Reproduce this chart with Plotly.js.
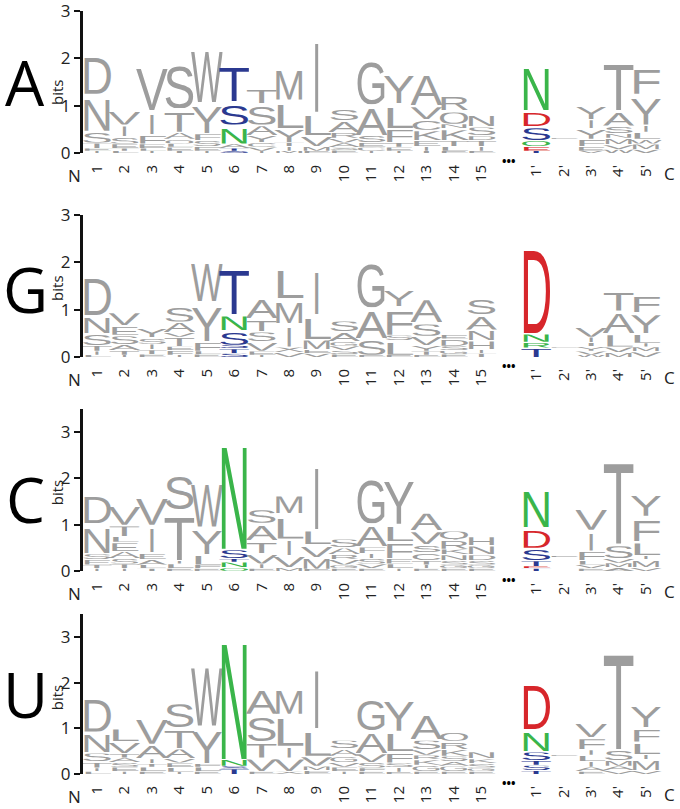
<!DOCTYPE html>
<html>
<head>
<meta charset="utf-8">
<script src="https://cdn.plot.ly/plotly-3.0.1.min.js"></script>
<style>html,body{margin:0;padding:0;background:#fff}#chart{width:680px;height:809px}</style>
</head>
<body>
<div id="chart"></div>
<script>
// ---------------- DATA ----------------
const positions = [1,2,3,4,5,6,7,8,9,10,11,12,13,14,15,16,17,18,19,20,21];
const tickLabels = ["1","2","3","4","5","6","7","8","9","10","11","12","13","14","15","","1'","2'","3'","4'","5'"];
const panelNames = ["A","G","C","U"];
// letters of each stack, bottom to top ("-" = empty slot); heights in bits
const lettersA = ["IETSND","LTESIV","ILEFIV","TELQATS","IESFYW","STANST","IVCYAST","MITYLM","EMVLI","ESAVRAS","ICESAG","IETFLY","TIEKCVA","ELTKNQR","EITDSN","","TEQSDN","-E","VEFYIY","WVMNSAT","VMWLIYF"];
const heightsA = [[.05,.05,.12,.25,.78,.92],[.05,.05,.10,.15,.25,.33],[.05,.05,.10,.20,.50,1.05],[.05,.08,.07,.10,.15,.50,1.05],[.05,.10,.12,.15,.65,1.30],[.05,.05,.10,.40,.50,.85],[.05,.08,.10,.15,.22,.45,.33],[.05,.10,.08,.30,.60,.75],[.05,.10,.22,.50,1.75],[.06,.06,.10,.10,.12,.25,.27],[.05,.08,.10,.15,.65,1.07],[.05,.08,.10,.30,.52,.70],[.05,.10,.12,.22,.22,.30,.75],[.05,.10,.12,.25,.10,.28,.33],[.05,.10,.12,.10,.20,.25],[],[.05,.10,.12,.30,.33,1.05],[.30,.04],[.05,.10,.15,.22,.20,.30],[.08,.10,.14,.10,.16,.32,1.15],[.08,.12,.10,.15,.15,.65,.62]];
const lettersG = ["LITSND","ITASEV","ETISY","IFETVAS","ELFYW","STSSNT","IEVSTA","VXIML","VEMLI","ESVGAS","ESAG","ELSFY","ETYVSA","EGSDE","TIHNAS","","TRND","-E","WVYTIV","MVLAT","VMILYF"];
const heightsG = [[.05,.08,.12,.25,.38,.92],[.05,.10,.12,.20,.20,.30],[.06,.10,.12,.14,.20],[.05,.10,.08,.20,.10,.22,.37],[.06,.07,.20,.85,.95],[.08,.10,.08,.30,.35,1.12],[.05,.08,.20,.22,.27,.45],[.10,.12,.50,.52,.70],[.08,.08,.22,.52,1.05],[.06,.08,.10,.10,.20,.25],[.05,.35,.65,1.10],[.05,.30,.12,.60,.38],[.05,.08,.12,.20,.28,.55],[.06,.08,.10,.15,.10],[.08,.08,.20,.22,.32,.36],[],[.20,.12,.18,2.10],[.20,.03],[.05,.08,.10,.08,.12,.22],[.10,.12,.28,.48,.45],[.12,.10,.08,.20,.45,.38]];
const lettersC = ["ITESND","ITSAELTV","TLAEIV","ELITS","EFLYW","QNTSN","EIVTAS","MVILM","EMVLI","EGVRAS","EVSIFAG","ILEFLY","EITCSVA","EGSNKRQ","EGSDNH","","TETSDN","-E","EVLFIV","AMVST","VMILFY"];
const heightsC = [[.06,.08,.12,.12,.65,.68],[.06,.10,.12,.15,.20,.12,.25,.48],[.06,.08,.12,.14,.60,.68],[.06,.10,.08,1.10,.85],[.06,.08,.22,.60,1.12],[.08,.12,.08,.20,2.65],[.06,.10,.22,.28,.38,.32],[.08,.26,.36,.55,.42],[.05,.25,.28,.32,1.60],[.06,.08,.12,.10,.15,.20],[.06,.10,.12,.10,.15,.50,1.10],[.06,.10,.12,.36,.38,1.12],[.06,.08,.10,.16,.18,.30,.42],[.06,.08,.10,.12,.12,.20,.20],[.06,.08,.10,.12,.20,.20],[],[.06,.05,.12,.27,.45,.90],[.30,.04],[.06,.08,.10,.20,.45,.55],[.08,.10,.10,.30,2.10],[.08,.18,.08,.30,.55,.55]];
const lettersU = ["LITSND","IESATVL","ELTIAV","ILEVATS","ELFYW","TSNN","EVTSA","XVILM","EMVLI","IEVGAS","EFSVAG","EISFLY","EGKRVSA","EGASKRQ","EGSKN","","TSTSND","-E","EAILIFV","VAMST","VMILFY"];
const heightsU = [[.06,.08,.14,.20,.45,.85],[.06,.10,.10,.10,.10,.26,.30],[.06,.10,.08,.10,.32,.66],[.05,.10,.10,.10,.22,.45,.60],[.06,.10,.08,.82,1.55],[.12,.06,.15,3.05],[.06,.30,.36,.60,.60],[.06,.30,.26,.70,.60],[.08,.10,.22,.60,1.50],[.06,.10,.10,.14,.16,.20],[.06,.08,.12,.20,.50,.80],[.05,.10,.10,.25,.45,.80],[.06,.14,.12,.10,.12,.22,.62],[.06,.12,.10,.12,.15,.18,.20],[.06,.08,.10,.10,.16],[],[.08,.12,.10,.20,.48,1.15],[.40,.04],[.06,.10,.12,.14,.12,.26,.35],[.08,.10,.12,.25,2.50],[.08,.25,.10,.28,.32,.55]];
const highlightPositions = [6, 17];

// ---------------- STYLE ----------------
const GRAY = '#9d9d9d';
const colorMap = {N:'#3ab54a', R:'#3ab54a', Q:'#3ab54a', S:'#2b3990', T:'#2b3990', D:'#d7262b', E:'#d7262b'};
const GLYPH_FILL = 0.85;   // glyph fraction of its stack slot
const GLYPH_W = 1.16;      // glyph width in position units
const W = 680, H = 809;
const LABEL_FONT = 'Open Sans, Noto Sans, sans-serif';

// pixel geometry of each panel (0-line, top of axis, y max)
const panelGeo = [
  {px0:153, pxTop:11,    yMax:3,   nameY:1.50, bitsY:1.29},
  {px0:357, pxTop:215,   yMax:3,   nameY:1.44, bitsY:1.46},
  {px0:571, pxTop:408.8, yMax:3.5, nameY:1.55, bitsY:1.70},
  {px0:774, pxTop:614.2, yMax:3.5, nameY:1.75, bitsY:1.68}
];
const allLetters = [lettersA, lettersG, lettersC, lettersU];
const allHeights = [heightsA, heightsG, heightsC, heightsU];

const svgCache = {};
function glyphURI(ch, color) {
  const key = ch + color;
  if (svgCache[key]) return svgCache[key];
  let txt;
  if (ch === 'I') {
    txt = `<text x="50" y="0" text-anchor="middle" font-family="Liberation Sans, Arial, sans-serif" font-size="100" fill="${color}" transform="translate(0,100) scale(1,1.397)">I</text>`;
  } else {
    txt = `<text x="0" y="0" textLength="100" lengthAdjust="spacingAndGlyphs" font-family="Liberation Sans, Arial, sans-serif" font-size="100" fill="${color}" transform="translate(0,100) scale(1,1.397)">${ch}</text>`;
  }
  const svg = `<svg xmlns="http://www.w3.org/2000/svg" width="100" height="100" viewBox="0 0 100 100" preserveAspectRatio="none">${txt}</svg>`;
  const uri = 'data:image/svg+xml;charset=utf-8,' + encodeURIComponent(svg);
  svgCache[key] = uri;
  return uri;
}

const data = [];
const layout = {
  width: W, height: H,
  margin: {l:0, r:0, t:0, b:0},
  paper_bgcolor: '#fff', plot_bgcolor: '#fff',
  showlegend: false,
  images: [], annotations: []
};

const xDomain = [83 / W, 662.5 / W];
const xRange = [0.49, 21.6];

panelNames.forEach((pname, p) => {
  const g = panelGeo[p];
  const sfx = p === 0 ? '' : String(p + 1);
  const xref = 'x' + sfx, yref = 'y' + sfx;
  const xKey = 'xaxis' + sfx, yKey = 'yaxis' + sfx;

  data.push({type:'scatter', x: positions, y: positions.map(() => 0), mode:'markers',
    marker:{opacity:0}, hoverinfo:'skip', xaxis: xref, yaxis: yref, showlegend:false});

  layout[xKey] = {
    domain: xDomain, range: xRange, anchor: yref,
    tickmode:'array', tickvals: positions, ticktext: tickLabels, tickangle: -90,
    ticks:'outside', ticklen:5, tickcolor:'rgba(0,0,0,0)',
    showline:false, showgrid:false, zeroline:false,
    tickfont:{family: LABEL_FONT, size:15, color:'#222'}
  };
  layout[yKey] = {
    domain: [1 - g.px0 / H, 1 - g.pxTop / H], range: [0, g.yMax], anchor: xref,
    tickmode:'array', tickvals:[0,1,2,3],
    ticks:'outside', ticklen:6, tickwidth:2, tickcolor:'#111',
    showline:true, linewidth:3, linecolor:'#111',
    showgrid:false, zeroline:false, ticklabeloverflow:'allow',
    tickfont:{family: LABEL_FONT, size:17, color:'#222'}
  };

  // logo letters
  const letters = allLetters[p], heights = allHeights[p];
  positions.forEach((pos, i) => {
    let cum = 0;
    const ls = letters[i], hs = heights[i];
    for (let k = 0; k < ls.length; k++) {
      const ch = ls[k], h = hs[k];
      if (ch !== '-') {
        const color = highlightPositions.includes(pos) ? (colorMap[ch] || GRAY) : GRAY;
        layout.images.push({
          source: glyphURI(ch, color), xref, yref,
          x: pos - GLYPH_W / 2, y: cum + h * GLYPH_FILL,
          sizex: GLYPH_W, sizey: h * GLYPH_FILL,
          xanchor:'left', yanchor:'top', sizing:'stretch', layer:'above'
        });
      }
      cum += h;
    }
  });

  const yPaper0 = 1 - g.px0 / H;
  // panel name
  layout.annotations.push({text: pname, xref:'paper', yref, x: 25 / W, y: g.nameY,
    xanchor:'center', yanchor:'middle', showarrow:false,
    font:{family: LABEL_FONT, size:62, color:'#000'}});
  // bits
  layout.annotations.push({text:'bits', xref:'paper', yref, x: 57 / W, y: g.bitsY,
    textangle:-90, xanchor:'center', yanchor:'middle', showarrow:false,
    font:{family: LABEL_FONT, size:15, color:'#222'}});
  // ellipsis
  layout.annotations.push({text:'<b>•••</b>', xref, yref, x: 16, y: 0, yshift:-9,
    xanchor:'center', yanchor:'middle', showarrow:false,
    font:{family: LABEL_FONT, size:12, color:'#000'}});
  // N / C termini
  layout.annotations.push({text:'N', xref:'paper', yref:'paper', x: 74 / W, y: yPaper0, yshift:-22,
    xanchor:'center', yanchor:'middle', showarrow:false,
    font:{family: LABEL_FONT, size:17, color:'#222'}});
  layout.annotations.push({text:'C', xref:'paper', yref:'paper', x: 669 / W, y: yPaper0, yshift:-20,
    xanchor:'center', yanchor:'middle', showarrow:false,
    font:{family: LABEL_FONT, size:17, color:'#222'}});
});

Plotly.newPlot('chart', data, layout, {displayModeBar:false, staticPlot:true});
</script>
</body>
</html>
